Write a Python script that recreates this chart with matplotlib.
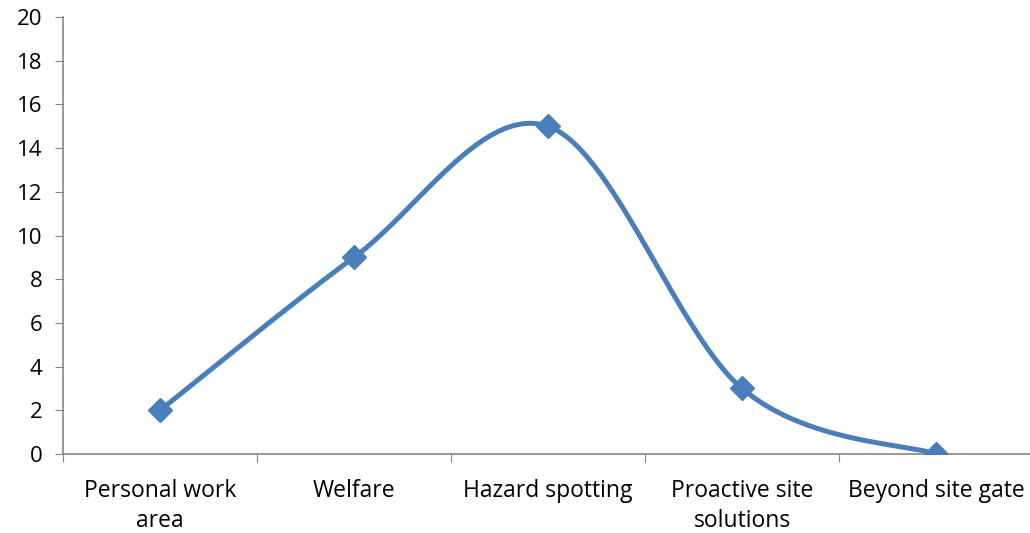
import numpy as np
import matplotlib
matplotlib.use('Agg')
import matplotlib.pyplot as plt

categories = ['Personal work\narea', 'Welfare', 'Hazard spotting',
              'Proactive site\nsolutions', 'Beyond site gate']
values = [2, 9, 15, 3, 0]

plt.rcParams['font.family'] = ['Open Sans', 'DejaVu Sans']

x = np.arange(len(values), dtype=float)
y = np.array(values, dtype=float)

# smoothed line like Excel: cubic Bezier, control points from neighbours
P = np.column_stack([x, y])
Pe = np.vstack([P[0], P, P[-1]])
curve = []
t = np.linspace(0, 1, 60)[:, None]
for i in range(len(P) - 1):
    p0, p3 = Pe[i + 1], Pe[i + 2]
    c1 = p0 + (Pe[i + 2] - Pe[i]) / 6
    c2 = p3 - (Pe[i + 3] - Pe[i + 1]) / 6
    seg = ((1 - t) ** 3) * p0 + 3 * ((1 - t) ** 2) * t * c1 + 3 * (1 - t) * t ** 2 * c2 + t ** 3 * p3
    curve.append(seg)
curve = np.vstack(curve)

fig = plt.figure(figsize=(10.3, 5.33), dpi=100)
ax = fig.add_axes([63 / 1030, 79 / 533, 970 / 1030, 437 / 533])

blue = '#4A7EBB'
ax.plot(curve[:, 0], curve[:, 1], color=blue, lw=3.6, solid_capstyle='round', zorder=3)
ax.plot(x, y, linestyle='none', marker='D', markersize=12, color=blue, zorder=4)

ax.set_xlim(-0.5, len(values) - 0.5)
ax.set_ylim(0, 20)
ax.set_yticks(range(0, 21, 2))
ax.set_xticks(np.arange(-0.5, len(values), 1.0))
ax.set_xticklabels([])
ax.set_xticks(x, minor=True)
ax.set_xticklabels(categories, minor=True, fontsize=16.5, linespacing=1.35)
ax.tick_params(axis='x', which='minor', length=0, pad=18)
ax.tick_params(axis='x', which='major', length=6, color='#868686', direction='out')
ax.tick_params(axis='y', length=6, color='#868686', labelsize=16, pad=9)

for s in ['top', 'right']:
    ax.spines[s].set_visible(False)
for s in ['left', 'bottom']:
    ax.spines[s].set_color('#868686')
    ax.spines[s].set_linewidth(1.2)

fig.savefig('out.png', dpi=100)
